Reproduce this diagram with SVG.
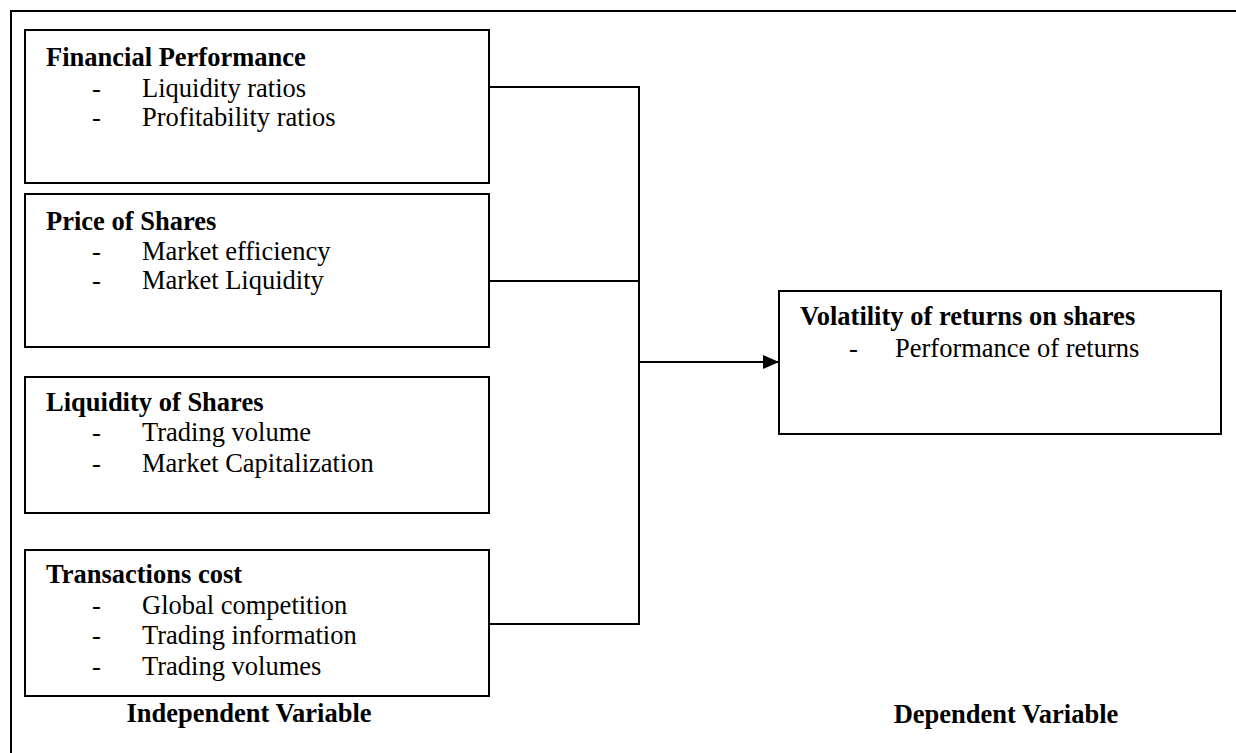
<svg xmlns="http://www.w3.org/2000/svg" width="1236" height="753" viewBox="0 0 1236 753">
<defs>
<marker id="arrow" viewBox="0 0 16 14" refX="16" refY="7" markerWidth="16" markerHeight="14" markerUnits="userSpaceOnUse" orient="auto">
<path d="M0,0 L16,7 L0,14 Z" fill="#000"/>
</marker>
<style>
.box{fill:#fff;stroke:#000;stroke-width:2}
text{font-family:'Liberation Serif','Times New Roman',serif;font-size:26.5px;fill:#000}
.b{font-weight:bold}
.c{fill:none;stroke:#000;stroke-width:2}
</style>
</defs>
<rect width="1236" height="753" fill="#fff"/>
<path d="M11,753 L11,11 L1236,11" fill="none" stroke="#000" stroke-width="2"/>
<g id="connectors">
<path class="c" d="M489,87 L639,87 L639,624 L489,624"/>
<path class="c" d="M489,281 L639,281"/>
<path class="c" d="M639,362 L779,362" marker-end="url(#arrow)"/>
</g>
<g id="financial-performance">
<rect class="box" x="25" y="30" width="464" height="153"/>
<text class="b" x="46" y="66">Financial Performance</text>
<text x="92" y="96.5">-</text><text x="142" y="96.5">Liquidity ratios</text>
<text x="92" y="126">-</text><text x="142" y="126">Profitability ratios</text>
</g>
<g id="price-of-shares">
<rect class="box" x="25" y="194" width="464" height="153"/>
<text class="b" x="46" y="230">Price of Shares</text>
<text x="92" y="260">-</text><text x="142" y="260">Market efficiency</text>
<text x="92" y="289">-</text><text x="142" y="289">Market Liquidity</text>
</g>
<g id="liquidity-of-shares">
<rect class="box" x="25" y="377" width="464" height="136"/>
<text class="b" x="46" y="411">Liquidity of Shares</text>
<text x="92" y="441">-</text><text x="142" y="441">Trading volume</text>
<text x="92" y="472">-</text><text x="142" y="472">Market Capitalization</text>
</g>
<g id="transactions-cost">
<rect class="box" x="25" y="550" width="464" height="146"/>
<text class="b" x="46" y="583">Transactions cost</text>
<text x="92" y="614">-</text><text x="142" y="614">Global competition</text>
<text x="92" y="644">-</text><text x="142" y="644">Trading information</text>
<text x="92" y="675">-</text><text x="142" y="675">Trading volumes</text>
</g>
<g id="volatility">
<rect class="box" x="779" y="291" width="442" height="143"/>
<text class="b" x="800" y="325">Volatility of returns on shares</text>
<text x="849" y="357">-</text><text x="895" y="357">Performance of returns</text>
</g>
<g id="labels">
<text class="b" x="249" y="722" text-anchor="middle">Independent Variable</text>
<text class="b" x="1006" y="723" text-anchor="middle">Dependent Variable</text>
</g>
</svg>
